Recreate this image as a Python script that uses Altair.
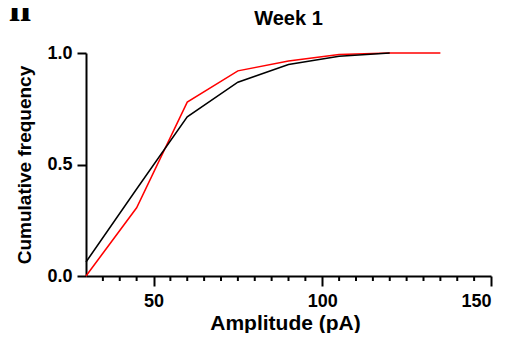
import altair as alt
import pandas as pd

# ---- data ----
amp_black = [30, 45, 60, 75, 90, 105, 120]
freq_black = [0.063, 0.39, 0.714, 0.869, 0.948, 0.985, 1.0]
amp_red = [30, 45, 60, 75, 90, 105, 120, 135]
freq_red = [0.0, 0.306, 0.78, 0.92, 0.964, 0.993, 1.0, 1.0]
x_major = [50, 100, 150]
x_minor = [35, 40, 45, 55, 60, 65, 70, 75, 80, 85, 90, 95,
           105, 110, 115, 120, 125, 130, 135, 140, 145]
y_ticks = [0.0, 0.5, 1.0]
title_text = ["Week 1"]
panel_letter = ["ll"]

FONT = "Liberation Sans"
W, H = 405, 223

df_black = pd.DataFrame({"amp": amp_black, "freq": freq_black})
df_red = pd.DataFrame({"amp": amp_red, "freq": freq_red})
df_minor = pd.DataFrame({"amp": x_minor})

x_scale = alt.Scale(domain=[30, 150], nice=False, zero=False)
y_scale = alt.Scale(domain=[0, 1], nice=False)

x_axis = alt.Axis(values=x_major, tickSize=10, labelPadding=6,
                  labelFontSize=18, labelFont=FONT, labelFontWeight="bold",
                  titleFontSize=21, titleFont=FONT, titleFontWeight="bold",
                  titleBaseline="alphabetic", titleY=53, titleX=199)
y_axis = alt.Axis(values=y_ticks, format=".1f", tickSize=9, labelPadding=5,
                  labelFontSize=18, labelFont=FONT, labelFontWeight="bold",
                  titleFontSize=19, titleFont=FONT, titleFontWeight="bold",
                  titleAngle=270, titleBaseline="alphabetic", titleX=-56,
                  titleY=H / 2, titleAlign="center")

X = alt.X("amp:Q", scale=x_scale, axis=x_axis, title="Amplitude (pA)")
Y = alt.Y("freq:Q", scale=y_scale, axis=y_axis, title="Cumulative frequency")

red = alt.Chart(df_red).mark_line(color="#ff0000", strokeWidth=1.5).encode(x=X, y=Y)
black = alt.Chart(df_black).mark_line(color="#000000", strokeWidth=1.5).encode(x=X, y=Y)

minor = alt.Chart(df_minor).mark_rule(color="#000000", strokeWidth=2).encode(
    x=X, y=alt.value(H), y2=alt.value(H + 5)
)

title = alt.Chart(pd.DataFrame({"t": title_text})).mark_text(
    font=FONT, fontWeight="bold", fontSize=20, align="center",
    baseline="alphabetic", color="#000000"
).encode(x=alt.value(W / 2), y=alt.value(-28), text="t:N")

letter = alt.Chart(pd.DataFrame({"t": panel_letter})).mark_text(
    font="Liberation Serif", fontWeight="bold", fontSize=40, align="left",
    baseline="alphabetic", color="#000000"
).encode(x=alt.value(-77), y=alt.value(-32), text="t:N")

chart = alt.layer(red, black, minor, title, letter).properties(
    width=W, height=H,
    autosize=alt.AutoSizeParams(type="none"),
    padding={"left": 78, "top": 45, "right": 12, "bottom": 57},
).configure_view(stroke=None).configure_axis(
    grid=False, domainWidth=2, tickWidth=2, domainColor="#000000",
    tickColor="#000000", labelColor="#000000", titleColor="#000000"
)

chart.save("out.html", embed_options={"renderer": "svg", "actions": False})
